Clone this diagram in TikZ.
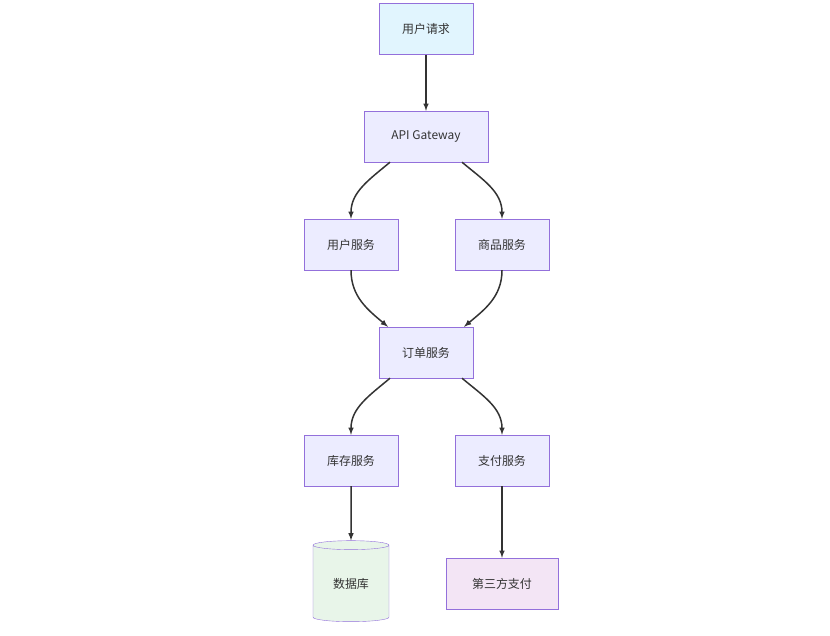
\documentclass[tikz,border=0pt]{standalone}
\usepackage{fontspec}
\setmainfont{Noto Sans CJK SC}
\usetikzlibrary{shapes.geometric}
\definecolor{boxfill}{HTML}{ECECFF}
\definecolor{boxline}{HTML}{9370DB}
\definecolor{reqfill}{HTML}{E1F5FE}
\definecolor{dbfill}{HTML}{E8F5E9}
\definecolor{payfill}{HTML}{F3E5F5}
\definecolor{linkcol}{HTML}{333333}
\tikzset{
  svc/.style={draw=boxline,fill=boxfill,minimum width=94bp,minimum height=51bp,
    font=\fontsize{12}{14}\selectfont,text=linkcol,inner sep=0pt},
  link/.style={->,draw=linkcol,line width=1.5bp},
}
\begin{document}
\begin{tikzpicture}[>=latex,x=1bp,y=-1bp]
        \useasboundingbox (0,0) rectangle (830,636);
        %%
        \node (req) at (426,29) [svc,fill=reqfill] {用户请求};
        \node (gw) at (426,136.5) [svc,minimum width=124bp] {API Gateway};
        \node (usr) at (351,244.5) [svc] {用户服务};
        \node (prod) at (502,244.5) [svc] {商品服务};
        \node (order) at (426,352.5) [svc] {订单服务};
        \node (stock) at (351,460.5) [svc] {库存服务};
        \node (pay) at (502,460.5) [svc] {支付服务};
        \node (db) at (351,583.5) [svc,fill=dbfill,cylinder,shape border rotate=90,
          aspect=0.25,minimum width=76bp,minimum height=81bp] {数据库};
        \node (third) at (502,583.5) [svc,fill=payfill,minimum width=112bp] {第三方支付};
        %
        \draw [link] (req) -- (gw);
        \draw [link] ([xshift=-36bp]gw.south) to[out=-140,in=90] (usr.north);
        \draw [link] ([xshift=36bp]gw.south) to[out=-40,in=90] (prod.north);
        \draw [link] (usr.south) to[out=-90,in=140] ([xshift=-38bp]order.north);
        \draw [link] (prod.south) to[out=-90,in=40] ([xshift=38bp]order.north);
        \draw [link] ([xshift=-36bp]order.south) to[out=-140,in=90] (stock.north);
        \draw [link] ([xshift=36bp]order.south) to[out=-40,in=90] (pay.north);
        \draw [link] (stock) -- (db);
        \draw [link] (pay) -- (third);
        %
\end{tikzpicture}
\end{document}
